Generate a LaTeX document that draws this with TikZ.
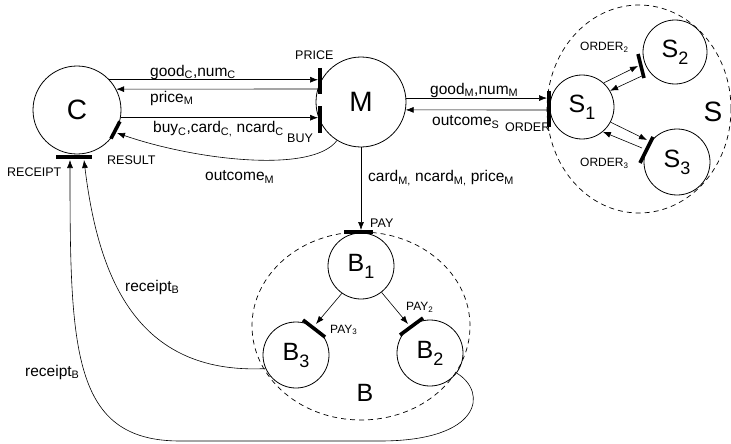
\documentclass[tikz,border=0pt]{standalone}
\usepackage{fontspec}
\setmainfont{Liberation Sans}
\usetikzlibrary{arrows.meta,shapes.geometric}
\newcommand{\bsub}[1]{\raisebox{-0.28em}{\scalebox{0.72}{#1}}}
\begin{document}
\begin{tikzpicture}[x=1pt,y=-1pt,
  st/.style={circle,draw,line width=0.8pt,inner sep=0pt},
  bigf/.style={font=\fontsize{28}{30}\selectfont},
  midf/.style={font=\fontsize{25}{28}\selectfont},
  grp/.style={ellipse,draw,dash pattern=on 5pt off 4pt,line width=0.7pt,inner sep=0pt},
  arr/.style={-{Latex[length=8pt,width=6pt]},line width=0.6pt},
  bar/.style={line width=3.6pt},
  lbl/.style={font=\fontsize{15.5}{17}\selectfont,inner sep=0pt,anchor=west},
  capl/.style={font=\fontsize{12.5}{14}\selectfont,inner sep=0pt,anchor=west},
  sml/.style={font=\fontsize{12}{13}\selectfont,inner sep=0pt,anchor=west},
]
\useasboundingbox (0,0) rectangle (731,444);

% groups
\node[grp,minimum width=184pt,minimum height=208pt] (Sgrp) at (639,109) {};
\node[grp,minimum width=218pt,minimum height=188pt] (Bgrp) at (361,326) {};

% states
\node[st,bigf,minimum size=88pt] (C) at (77,110) {C};
\node[st,bigf,minimum size=90pt] (M) at (361,102) {M};
\node[st,midf,minimum size=64pt] (S1) at (582,107) {S\bsub{1}};
\node[st,midf,minimum size=64pt] (S2) at (675,52) {S\bsub{2}};
\node[st,midf,minimum size=66pt] (S3) at (677,162) {S\bsub{3}};
\node[st,midf,minimum size=66pt] (B1) at (361,266) {B\bsub{1}};
\node[st,midf,minimum size=66pt] (B2) at (430,353) {B\bsub{2}};
\node[st,midf,minimum size=66pt] (B3) at (296,355) {B\bsub{3}};

% group labels
\node[bigf] (Slbl) at (713,112) {S};
\node[font=\fontsize{25}{28}\selectfont] (Blbl) at (365,393) {B};

% bars (ports)
\coordinate (prT) at (320,68);  \coordinate (prB) at (320,94);
\coordinate (buT) at (320,106); \coordinate (buB) at (320,133);
\coordinate (rcL) at (56,157);  \coordinate (rcR) at (92,157);
\coordinate (orT) at (549,91);  \coordinate (orB) at (549,127);
\coordinate (o2T) at (638,54);  \coordinate (o2B) at (644,78);
\coordinate (o3T) at (653,137); \coordinate (o3B) at (640,163);
\coordinate (paL) at (344,232); \coordinate (paR) at (373,232);
\coordinate (p2L) at (400,335); \coordinate (p2R) at (423,318);
\coordinate (p3L) at (303,320); \coordinate (p3R) at (325,337);
\draw[bar] (prT) -- (prB);
\draw[bar] (buT) -- (buB);
\draw[bar] (C.-40) -- (C.-15);
\draw[bar] (rcL) -- (rcR);
\draw[bar] (orT) -- (orB);
\draw[bar] (o2T) -- (o2B);
\draw[bar] (o3T) -- (o3B);
\draw[bar] (paL) -- (paR);
\draw[bar] (p2L) -- (p2R);
\draw[bar] (p3L) -- (p3R);

% arrow end points on ports
\coordinate (gcIn) at (318,80);
\coordinate (pmOut) at (318,89);
\coordinate (bcIn) at (318,118);
\coordinate (resIn) at (117,133);
\coordinate (omIn) at (547,98);
\coordinate (osOut) at (547,110);
\coordinate (o2In) at (638,66);
\coordinate (o2Out) at (644,75);
\coordinate (o3In) at (647,140);
\coordinate (o3Out) at (642,148);
\coordinate (payIn) at (361,230);
\coordinate (p2In) at (408,324);
\coordinate (p3In) at (316,324);
\coordinate (rcIn1) at (70,160);
\coordinate (rcIn2) at (84,160);

% C <-> M
\draw[arr] (C.43) -- (C.43 -| gcIn);
\draw[arr] (pmOut) -- (C.28.5);
\draw[arr] (C.-10.5) -- (C.-10.5 -| bcIn);
\draw[arr] (M.238) .. controls (312,174) and (195,160) .. (resIn);

% M <-> S
\draw[arr] (M.5) -- (M.5 -| omIn);
\draw[arr] (osOut) -- (M.-10);
\draw[arr] (S1.48) -- (o2In);
\draw[arr] (o2Out) -- (S1.30);
\draw[arr] (S1.-28) -- (o3In);
\draw[arr] (o3Out) -- (S1.-50);

% M -> B
\draw[arr] (M.south -| payIn) -- (payIn);
\draw[arr] (B1.235) -- (p3In);
\draw[arr] (B1.-52) -- (p2In);

% receipts
\draw[arr] (B3.204) .. controls (135,375) and (98,275) .. (rcIn2);
\draw[arr] (B2.-37) .. controls (488,392) and (482,441) .. (380,441)
  -- (180,441) .. controls (72,441) and (70,350) .. (rcIn1);

% labels
\node[lbl] (l1) at (150,72) {good\textsubscript{C},num\textsubscript{C}};
\node[lbl] (l2) at (150,98) {price\textsubscript{M}};
\node[lbl] (l3) at (153,129) {buy\textsubscript{C},card\textsubscript{C,} ncard\textsubscript{C}};
\node[lbl] (l4) at (205,177) {outcome\textsubscript{M}};
\node[lbl] (l5) at (368,178) {card\textsubscript{M,} ncard\textsubscript{M,} price\textsubscript{M}};
\node[lbl] (l6) at (430,90) {good\textsubscript{M},num\textsubscript{M}};
\node[lbl] (l7) at (432,122) {outcome\textsubscript{S}};
\node[lbl] (l8) at (125,287) {receipt\textsubscript{B}};
\node[lbl] (l9) at (25,372) {receipt\textsubscript{B}};
\node[capl] (c1) at (295,55) {PRICE};
\node[capl] (c2) at (287,138) {BUY};
\node[capl] (c3) at (107,160) {RESULT};
\node[capl] (c4) at (7,172) {RECEIPT};
\node[capl] (c5) at (505,127) {ORDER};
\node[capl] (c6) at (370,223) {PAY};
\node[sml] (s1) at (580,47) {ORDER\textsubscript{2}};
\node[sml] (s2) at (580,163) {ORDER\textsubscript{3}};
\node[sml] (s3) at (406,307) {PAY\textsubscript{2}};
\node[sml] (s4) at (330,330) {PAY\textsubscript{3}};
\end{tikzpicture}
\end{document}
